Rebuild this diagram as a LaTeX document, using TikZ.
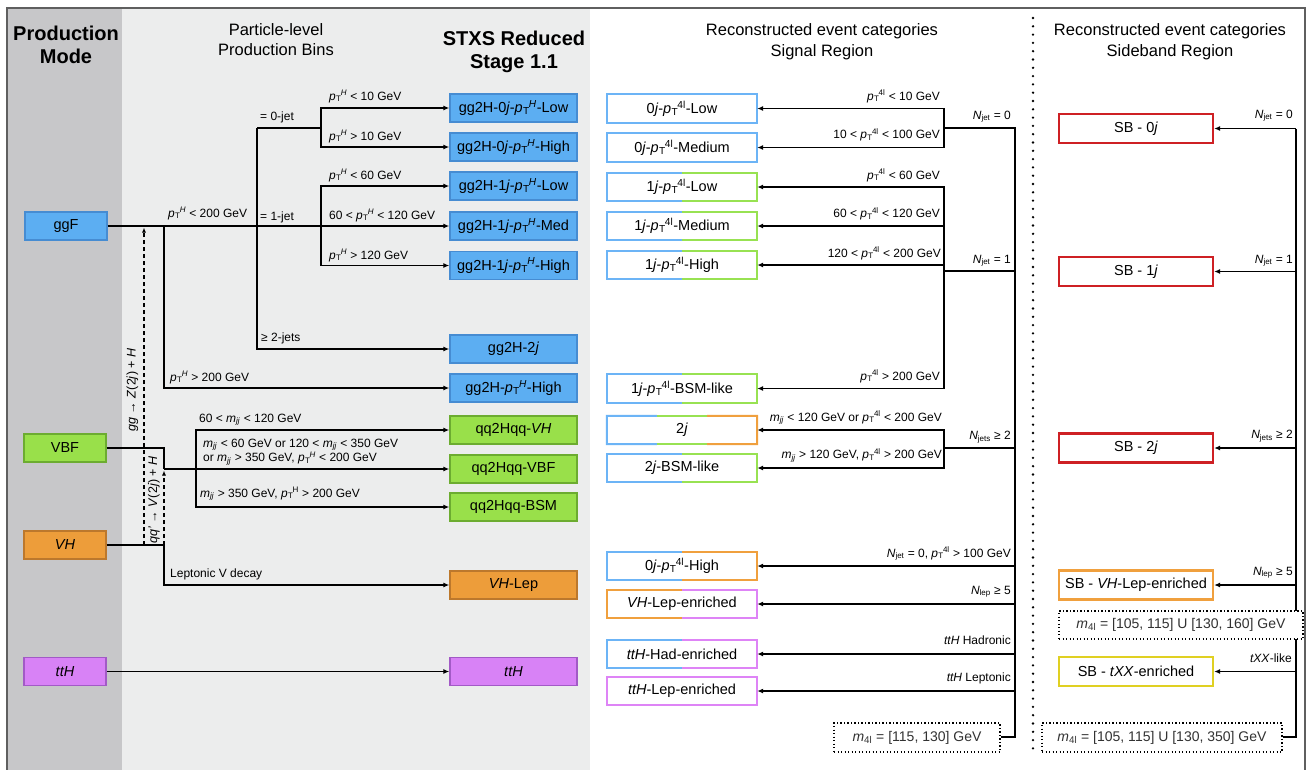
\documentclass[tikz,border=0pt]{standalone}
\usepackage{fontspec}
\setmainfont{Liberation Sans}
\usetikzlibrary{arrows.meta,calc}
\definecolor{pdark}{RGB}{199,199,201}
\definecolor{plight}{RGB}{236,237,237}
\definecolor{frm}{RGB}{95,95,95}
\definecolor{fblue}{RGB}{92,174,242}
\definecolor{dblue}{RGB}{70,140,210}
\definecolor{fgreen}{RGB}{153,224,74}
\definecolor{dgreen}{RGB}{108,172,48}
\definecolor{forange}{RGB}{237,157,58}
\definecolor{dorange}{RGB}{188,120,44}
\definecolor{fviolet}{RGB}{216,130,246}
\definecolor{dviolet}{RGB}{162,90,198}
\definecolor{sblue}{RGB}{108,180,246}
\definecolor{sgreen}{RGB}{152,226,82}
\definecolor{sorange}{RGB}{240,160,62}
\definecolor{sviolet}{RGB}{222,132,246}
\definecolor{sred}{RGB}{206,32,36}
\definecolor{syellow}{RGB}{224,208,34}
\definecolor{mgray}{RGB}{50,50,50}
\newcommand\ptsup[1]{\textit{p}\kern0.3pt\textsubscript{T}\kern-0.8pt\textsuperscript{#1}}
\newcommand\mjj{\textit{m}\textsubscript{\textit{jj}}}
\newcommand\Nsb[1]{\textit{N}\textsubscript{#1}}
\newcommand\mfl{\textit{m}\textsubscript{4l}}
\newcommand\bicol[3]{%
  \draw[bord,#2] (#1.north) -- (#1.north west) -- (#1.south west) -- (#1.south);
  \draw[bord,#3] (#1.north) -- (#1.north east) -- (#1.south east) -- (#1.south);}
\newcommand\tricol[4]{%
  \draw[bord,#2] ($(#1.north west)!1/3!(#1.north east)$) -- (#1.north west) -- (#1.south west) -- ($(#1.south west)!1/3!(#1.south east)$);
  \draw[bord,#3] ($(#1.north west)!1/3!(#1.north east)$) -- ($(#1.north west)!2/3!(#1.north east)$);
  \draw[bord,#3] ($(#1.south west)!1/3!(#1.south east)$) -- ($(#1.south west)!2/3!(#1.south east)$);
  \draw[bord,#4] ($(#1.north west)!2/3!(#1.north east)$) -- (#1.north east) -- (#1.south east) -- ($(#1.south west)!2/3!(#1.south east)$);}
\tikzset{
  ln/.style={line width=1.9pt},
  arr/.style={line width=1.9pt,-{Latex[length=6pt,width=5pt]}},
  dsh/.style={line width=1.3pt,dash pattern=on 4pt off 3pt,-{Latex[length=5pt,width=4pt]}},
  bx/.style={rectangle,minimum height=28pt,inner sep=0pt,font=\fontsize{14.5}{17}\selectfont},
  pm/.style={bx,minimum width=82pt,line width=1.4pt},
  stx/.style={bx,minimum width=127pt,line width=1.4pt},
  srb/.style={bx,minimum width=150pt,fill=white},
  sbb/.style={bx,minimum width=154pt,minimum height=29pt,fill=white,line width=2.2pt},
  mbox/.style={bx,fill=white,draw=black,line width=1.1pt,dash pattern=on 1.1pt off 2.4pt,font=\fontsize{14}{16}\selectfont,text=mgray,minimum height=29pt},
  bord/.style={line width=2pt},
  lab/.style={inner sep=0pt,font=\fontsize{12}{14}\selectfont},
  labl/.style={lab,anchor=base west},
  labr/.style={lab,anchor=base east},
  ttl/.style={inner sep=0pt,anchor=base,font=\fontsize{16.5}{19}\selectfont},
  ttb/.style={inner sep=0pt,anchor=base,font=\fontsize{20}{23}\selectfont\bfseries},
  rot/.style={inner sep=0pt,rotate=90,font=\fontsize{12.5}{15}\selectfont},
}
\begin{document}
\begin{tikzpicture}[x=1pt,y=-1pt]
\useasboundingbox (0,0) rectangle (1309,769);
\clip (0,0) rectangle (1309,769);
\fill[white] (0,0) rectangle (1309,769);
\fill[pdark] (7,8) rectangle (122,800);
\fill[plight] (122,8) rectangle (590,800);
\draw[frm,line width=2pt] (7,800) -- (7,8) -- (1305,8) -- (1305,800);
\draw[line width=2.6pt,line cap=round,dash pattern=on 0pt off 8.3pt] (1033,18) -- (1033,752);

% titles
\node[ttb] (t1) at (66,40) {Production};
\node[ttb] (t2) at (66,63.5) {Mode};
\node[ttl] (t3) at (276,35) {Particle-level};
\node[ttl] (t4) at (276,55.5) {Production Bins};
\node[ttb] (t5) at (514,45) {STXS Reduced};
\node[ttb] (t6) at (514,68) {Stage 1.1};
\node[ttl] (t7) at (822,35.5) {Reconstructed event categories};
\node[ttl] (t8) at (822,56) {Signal Region};
\node[ttl] (t9) at (1170,35.5) {Reconstructed event categories};
\node[ttl] (t10) at (1170,56) {Sideband Region};

% production modes
\node[pm,fill=fblue,draw=dblue] (ggF) at (66,226) {ggF};
\node[pm,fill=fgreen,draw=dgreen] (VBF) at (65,448) {VBF};
\node[pm,fill=forange,draw=dorange] (VH) at (65,545) {\textit{VH}};
\node[pm,fill=fviolet,draw=dviolet] (ttHp) at (65,671.5) {\textit{ttH}};

% STXS bins
\node[stx,fill=fblue,draw=dblue] (g0l) at (513.5,108) {gg2H-0\textit{j}-\ptsup{\textit{H}}-Low};
\node[stx,fill=fblue,draw=dblue] (g0h) at (513.5,147) {gg2H-0\textit{j}-\ptsup{\textit{H}}-High};
\node[stx,fill=fblue,draw=dblue] (g1l) at (513.5,186) {gg2H-1\textit{j}-\ptsup{\textit{H}}-Low};
\node[stx,fill=fblue,draw=dblue] (g1m) at (513.5,226) {gg2H-1\textit{j}-\ptsup{\textit{H}}-Med};
\node[stx,fill=fblue,draw=dblue] (g1h) at (513.5,265.5) {gg2H-1\textit{j}-\ptsup{\textit{H}}-High};
\node[stx,fill=fblue,draw=dblue] (g2j) at (513.5,349) {gg2H-2\textit{j}};
\node[stx,fill=fblue,draw=dblue] (gpt) at (513.5,388) {gg2H-\ptsup{\textit{H}}-High};
\node[stx,fill=fgreen,draw=dgreen] (qvh) at (513.5,430) {qq2Hqq-\textit{VH}};
\node[stx,fill=fgreen,draw=dgreen] (qvbf) at (513.5,469) {qq2Hqq-VBF};
\node[stx,fill=fgreen,draw=dgreen] (qbsm) at (513.5,507) {qq2Hqq-BSM};
\node[stx,fill=forange,draw=dorange] (vhlep) at (513.5,585) {\textit{VH}-Lep};
\node[stx,fill=fviolet,draw=dviolet] (stth) at (513.5,671.5) {\textit{ttH}};

% ggF tree
\coordinate (a1) at (164,226);
\coordinate (a2) at (257,226);
\coordinate (a3) at (257,128);
\coordinate (a4) at (321,128);
\coordinate (a5) at (321,226);
\draw[arr] (ggF.east) -- (g1m.west);
\draw[arr] (a1) |- (gpt.west);
\draw[ln] (a3) -- (a2);
\draw[arr] (a2) |- (g2j.west);
\draw[ln] (a3) -- (a4);
\draw[arr] (a4) |- (g0l.west);
\draw[arr] (a4) |- (g0h.west);
\draw[arr] (a5) |- (g1l.west);
\draw[arr] (a5) |- (g1h.west);
% VBF tree
\coordinate (b1) at (164,469);
\coordinate (b2) at (196,469);
\draw[ln] (VBF.east) -| (b1);
\draw[arr] (b1) -- (qvbf.west);
\draw[arr] (b2) |- (qvh.west);
\draw[arr] (b2) |- (qbsm.west);
% VH tree
\coordinate (c1) at (164,545);
\draw[arr] (VH.east) -- (c1) |- (vhlep.west);
% ttH
\draw[arr] (ttHp.east) -- (stth.west);
% dashed
\coordinate (d1) at (144,545);
\coordinate (d2) at (144,227.5);
\coordinate (d3) at (164,470.5);
\draw[dsh] (d1) -- (d2);
\draw[dsh] (c1) -- (d3);
\node[rot] (r1) at (132.5,390) {\textit{gg} → \textit{Z}(2\textit{j}) + \textit{H}};
\node[rot] (r2) at (154,500) {\textit{qq’} → \textit{V}(2\textit{j}) + \textit{H}};

% left labels
\node[labl] (l1) at (329,100) {\ptsup{\textit{H}} < 10 GeV};
\node[labl] (l2) at (329,140) {\ptsup{\textit{H}} > 10 GeV};
\node[labl] (l3) at (329,179) {\ptsup{\textit{H}} < 60 GeV};
\node[labl] (l4) at (329,219) {60 < \ptsup{\textit{H}} < 120 GeV};
\node[labl] (l5) at (329,259) {\ptsup{\textit{H}} > 120 GeV};
\node[labl] (l6) at (260,120) {= 0-jet};
\node[labl] (l7) at (260,220) {= 1-jet};
\node[labl] (l8) at (261,341) {≥ 2-jets};
\node[labl] (l9) at (168,217) {\ptsup{\textit{H}} < 200 GeV};
\node[labl] (l10) at (170,381) {\ptsup{\textit{H}} > 200 GeV};
\node[labl] (l11) at (199,422) {60 < \mjj{} < 120 GeV};
\node[labl] (l12) at (203,447) {\mjj{} < 60 GeV or 120 < \mjj{} < 350 GeV};
\node[labl] (l13) at (203,461.5) {or \mjj{} > 350 GeV, \ptsup{\textit{H}} < 200 GeV};
\node[labl] (l14) at (200,497) {\mjj{} > 350 GeV, \ptsup{H} > 200 GeV};
\node[labl] (l15) at (170,577) {Leptonic V decay};

% signal region boxes
\node[srb] (s0l) at (682,108.5) {0\textit{j}-\ptsup{4l}-Low};
\node[srb] (s0m) at (682,147.5) {0\textit{j}-\ptsup{4l}-Medium};
\node[srb] (s1l) at (682,187) {1\textit{j}-\ptsup{4l}-Low};
\node[srb] (s1m) at (682,226) {1\textit{j}-\ptsup{4l}-Medium};
\node[srb] (s1h) at (682,265) {1\textit{j}-\ptsup{4l}-High};
\node[srb] (s1b) at (682,388.5) {1\textit{j}-\ptsup{4l}-BSM-like};
\node[srb] (s2j) at (682,430) {2\textit{j}};
\node[srb] (s2b) at (682,468) {2\textit{j}-BSM-like};
\node[srb] (s0h) at (682,566) {0\textit{j}-\ptsup{4l}-High};
\node[srb] (svh) at (682,604) {\textit{VH}-Lep-enriched};
\node[srb] (sthad) at (682,654) {\textit{ttH}-Had-enriched};
\node[srb] (stlep) at (682,691) {\textit{ttH}-Lep-enriched};
\bicol{s0l}{sblue}{sblue}
\bicol{s0m}{sblue}{sblue}
\bicol{s1l}{sblue}{sgreen}
\bicol{s1m}{sblue}{sgreen}
\bicol{s1h}{sblue}{sgreen}
\bicol{s1b}{sblue}{sgreen}
\tricol{s2j}{sblue}{sgreen}{sorange}
\bicol{s2b}{sblue}{sgreen}
\bicol{s0h}{sblue}{sorange}
\bicol{svh}{sorange}{sviolet}
\bicol{sthad}{sblue}{sviolet}
\bicol{stlep}{sviolet}{sviolet}
\node[mbox,minimum width=166pt] (msr) at (917,737.5) {\mfl{} = [115, 130] GeV};

% signal region connectors
\coordinate (p0) at (944,128);
\coordinate (q0) at (1015,128);
\coordinate (p1) at (944,271);
\coordinate (q1) at (1015,271);
\coordinate (p2) at (944,448);
\coordinate (q2) at (1015,448);
\coordinate (qb) at (1015,737);
\draw[ln] (msr.east |- qb) -- (qb) -- (q0) -- (p0);
\draw[ln] (q1) -- (p1);
\draw[ln] (q2) -- (p2);
\draw[arr] (p0) |- (s0l.east);
\draw[arr] (p0) |- (s0m.east);
\draw[arr] (p1) |- (s1l.east);
\draw[arr] (p1) |- (s1m.east);
\draw[arr] (p1) |- (s1h.east);
\draw[arr] (p1) |- (s1b.east);
\draw[arr] (p2) |- (s2j.east);
\draw[arr] (p2) |- (s2b.east);
\draw[arr] (qb |- s0h.east) -- (s0h.east);
\draw[arr] (qb |- svh.east) -- (svh.east);
\draw[arr] (qb |- sthad.east) -- (sthad.east);
\draw[arr] (qb |- stlep.east) -- (stlep.east);

% signal region labels
\node[labr] (m1) at (940,100) {\ptsup{4l} < 10 GeV};
\node[labr] (m2) at (940,138.5) {10 < \ptsup{4l} < 100 GeV};
\node[labr] (m3) at (940,179) {\ptsup{4l} < 60 GeV};
\node[labr] (m4) at (940,217.5) {60 < \ptsup{4l} < 120 GeV};
\node[labr] (m5) at (941,257) {120 < \ptsup{4l} < 200 GeV};
\node[labr] (m6) at (940,380) {\ptsup{4l} > 200 GeV};
\node[labr] (m7) at (942,421) {\mjj{} < 120 GeV or \ptsup{4l} < 200 GeV};
\node[labr] (m8) at (942,458.5) {\mjj{} > 120 GeV, \ptsup{4l} > 200 GeV};
\node[labr] (n0) at (1011,119) {\Nsb{jet} = 0};
\node[labr] (n1) at (1011,263) {\Nsb{jet} = 1};
\node[labr] (n2) at (1011,439.5) {\Nsb{jets} ≥ 2};
\node[labr] (n3) at (1011,557) {\Nsb{jet} = 0, \ptsup{4l} > 100 GeV};
\node[labr] (n4) at (1011,594) {\Nsb{lep} ≥ 5};
\node[labr] (n5) at (1011,644) {\textit{ttH} Hadronic};
\node[labr] (n6) at (1011,681) {\textit{ttH} Leptonic};

% sideband boxes
\node[sbb,draw=sred] (b0) at (1136,128.5) {SB - 0\textit{j}};
\node[sbb,draw=sred] (b1) at (1136,271.5) {SB - 1\textit{j}};
\node[sbb,draw=sred] (b2) at (1136,448) {SB - 2\textit{j}};
\node[sbb,draw=sorange] (bvh) at (1136,585) {SB - \textit{VH}-Lep-enriched};
\node[sbb,draw=syellow] (btxx) at (1136,671.5) {SB - \textit{tXX}-enriched};
\node[mbox,minimum width=240pt] (m350) at (1162,737.5) {\mfl{} = [105, 115] U [130, 350] GeV};
\coordinate (rb) at (1296,737);
\draw[ln] (m350.east |- rb) -- (rb) -- (rb |- b0.east);
\draw[arr] (rb |- b0.east) -- (b0.east);
\draw[arr] (rb |- b1.east) -- (b1.east);
\draw[arr] (rb |- b2.east) -- (b2.east);
\draw[arr] (rb |- bvh.east) -- (bvh.east);
\draw[arr] (rb |- btxx.east) -- (btxx.east);
\node[mbox,minimum width=244pt,minimum height=28pt] (m160) at (1181,625) {\mfl{} = [105, 115] U [130, 160] GeV};
\node[labr] (k0) at (1293,118) {\Nsb{jet} = 0};
\node[labr] (k1) at (1293,263) {\Nsb{jet} = 1};
\node[labr] (k2) at (1293,438.5) {\Nsb{jets} ≥ 2};
\node[labr] (k3) at (1293,575) {\Nsb{lep} ≥ 5};
\node[labr] (k4) at (1292,662) {\textit{tXX}-like};
\end{tikzpicture}
\end{document}
